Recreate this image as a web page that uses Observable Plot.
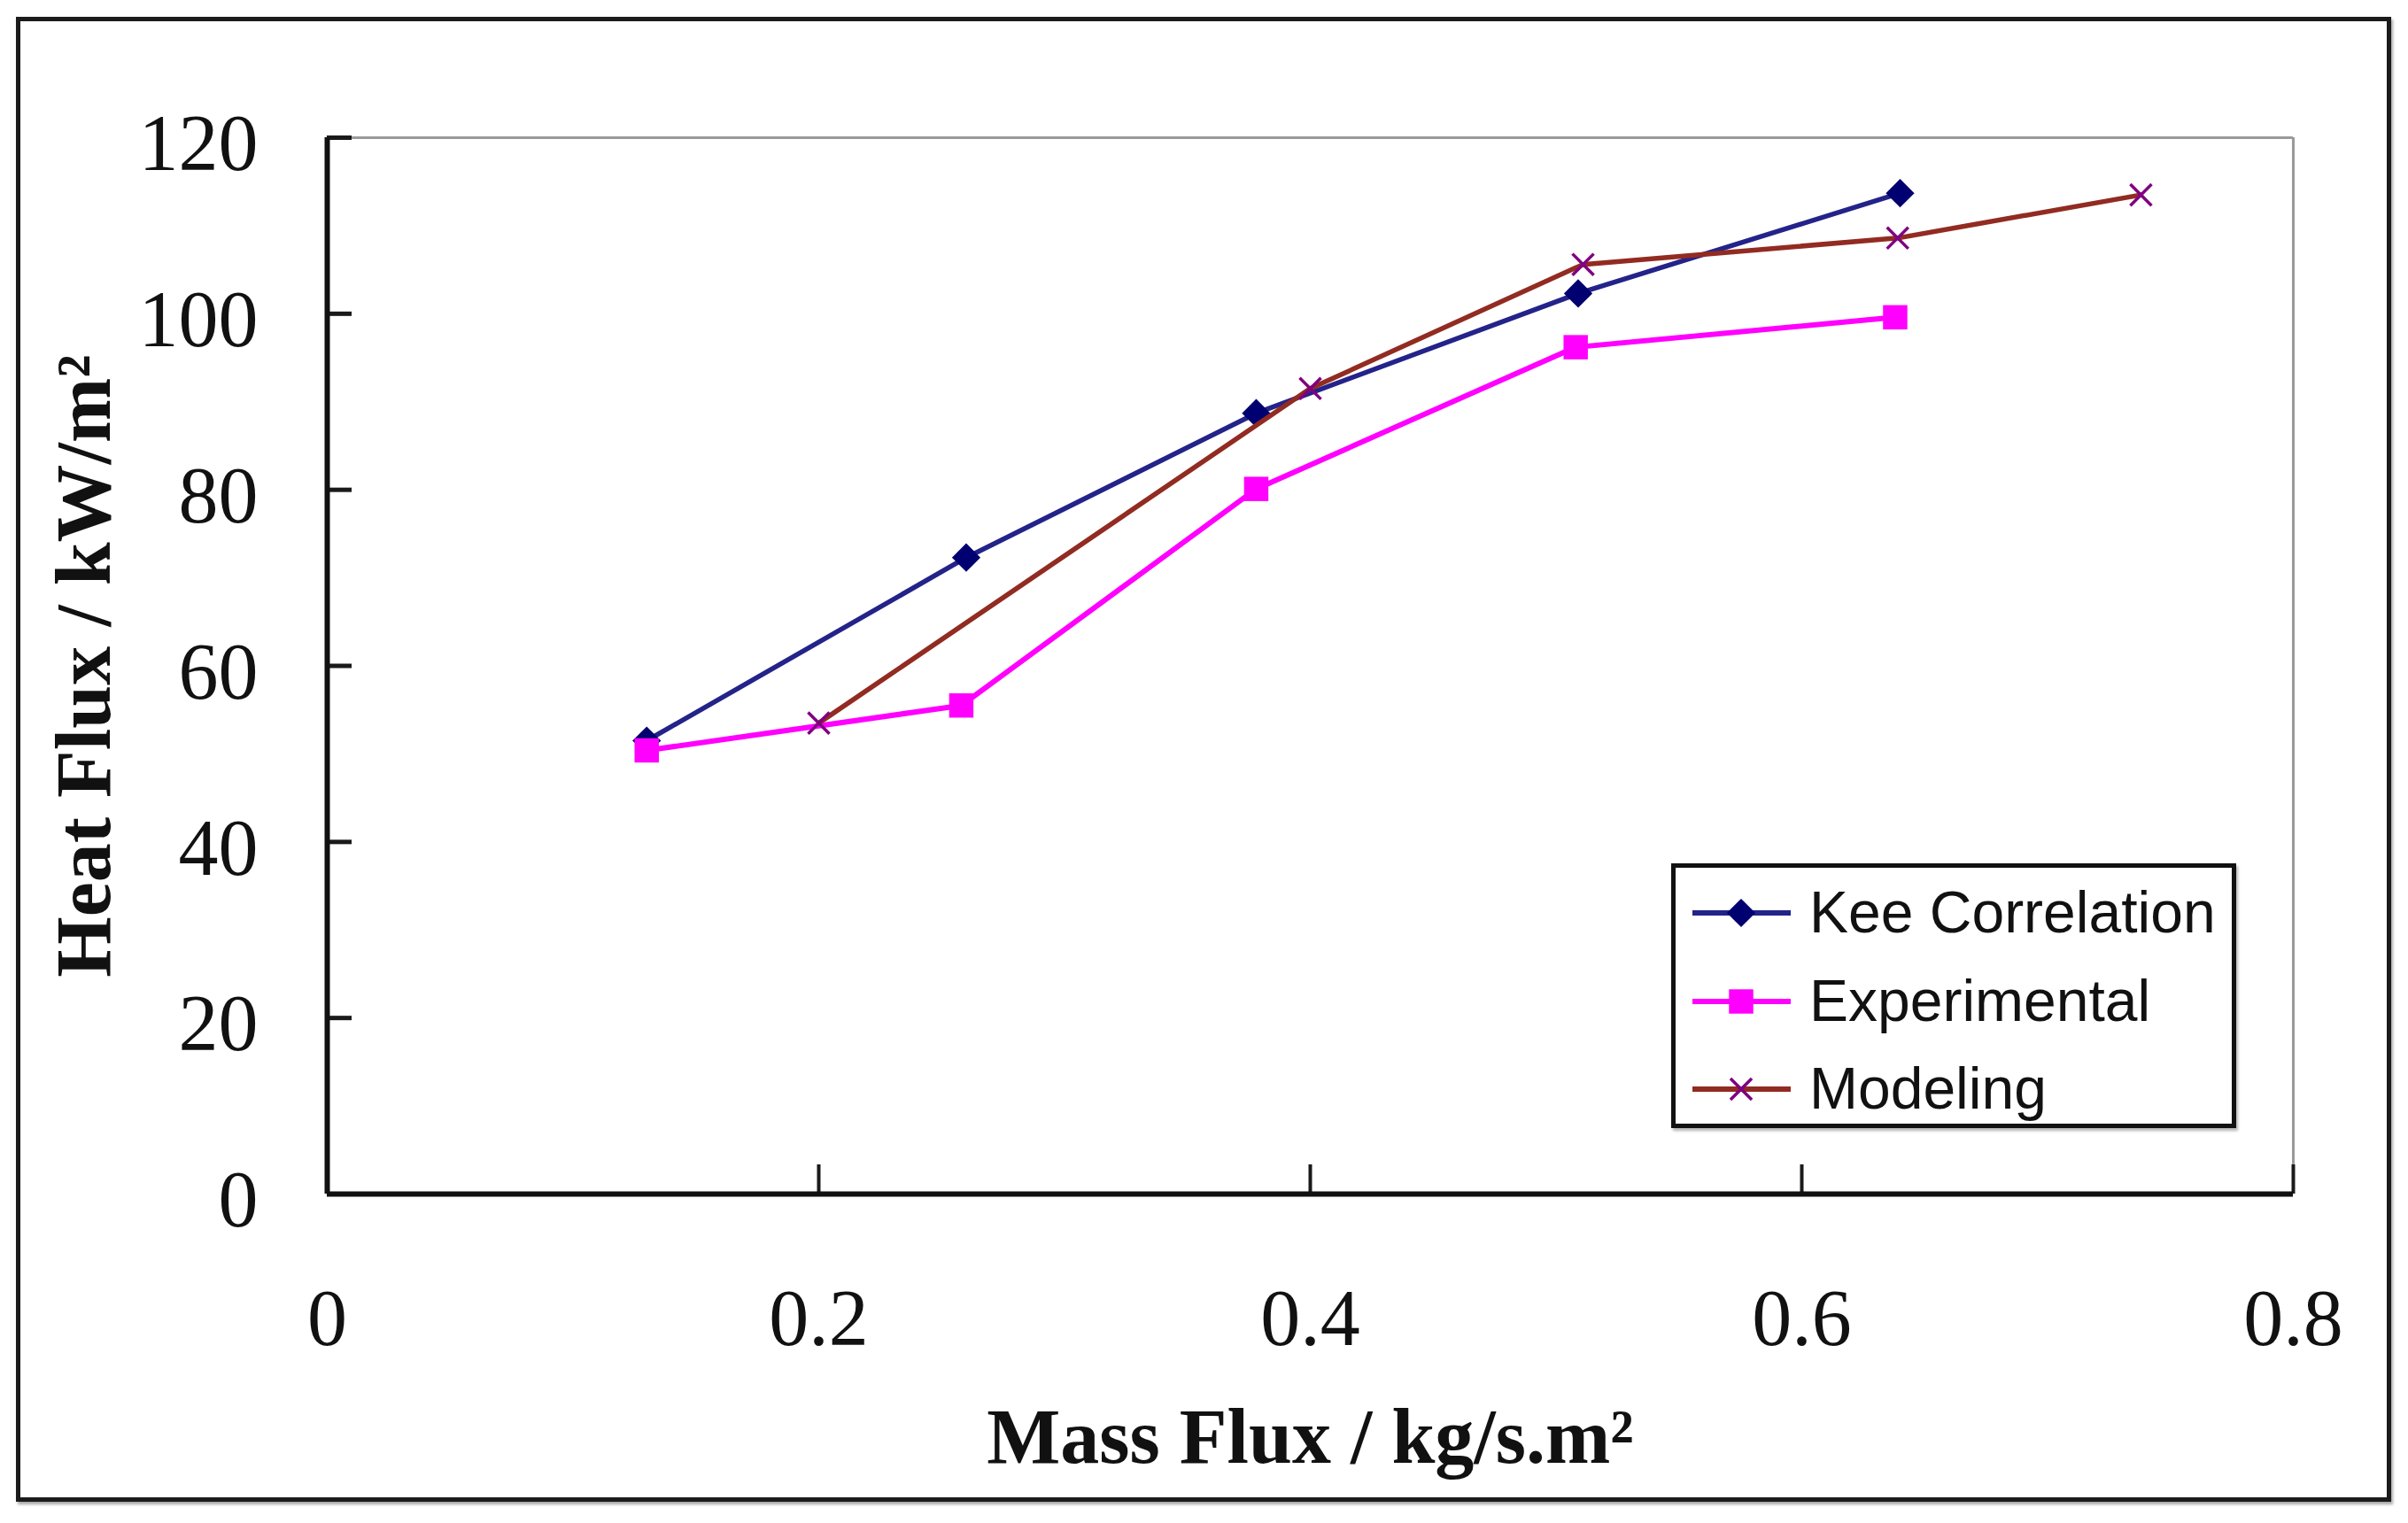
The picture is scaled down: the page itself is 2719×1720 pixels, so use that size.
<!DOCTYPE html>
<html><head><meta charset="utf-8">
<script src="https://cdn.jsdelivr.net/npm/d3@7"></script>
<script src="https://cdn.jsdelivr.net/npm/@observablehq/plot@0.6"></script>
<style>
html,body{margin:0;padding:0;background:#fff;}
#wrap{position:relative;width:2719px;height:1720px;overflow:hidden;background:#fff;}
#frame{position:absolute;left:18px;top:19px;width:2672px;height:1667px;border:5px solid #1b1b1b;box-shadow:2px 3px 3px rgba(0,0,0,0.35);pointer-events:none;}
#legend{position:absolute;left:1887px;top:975px;width:628px;height:289px;border:5px solid #111;background:#fff;overflow:hidden;box-shadow:2px 3px 3px rgba(0,0,0,0.3);}
#legend svg{display:block;}
</style></head><body><div id="wrap"><div id="plot"></div><div id="frame"></div><div id="legend"></div></div>
<script>
// ---- data ----
const seriesNames = ["Kee Correlation", "Experimental", "Modeling"];
const keeX = [0.13, 0.26, 0.378, 0.509, 0.64];
const keeY = [51.5, 72.3, 88.7, 102.3, 113.7];
const expX = [0.13, 0.258, 0.378, 0.508, 0.638];
const expY = [50.4, 55.5, 80.1, 96.2, 99.6];
const modX = [0.2, 0.4, 0.511, 0.639, 0.738];
const modY = [53.5, 91.5, 105.6, 108.6, 113.5];
const xTicks = [0, 0.2, 0.4, 0.6, 0.8];
const yTicks = [0, 20, 40, 60, 80, 100, 120];
const xLabel = "Mass Flux / kg/s.m²";
const yLabel = "Heat Flux / kW/m²";

// ---- styles ----
const C = {
  keeLine: "#23238a", keeMark: "#000070",
  expLine: "#ff00ff", expMark: "#ff00ff",
  modLine: "#922b21", modMark: "#800080"
};
const R = {diamond: 14.5, square: 15.5, times: 11};

const kee = keeX.map((x, i) => ({x, y: keeY[i]}));
const exp = expX.map((x, i) => ({x, y: expY[i]}));
const mod = modX.map((x, i) => ({x, y: modY[i]}));

const chart = Plot.plot({
  width: 2719, height: 1720,
  marginLeft: 369, marginRight: 130, marginTop: 155, marginBottom: 372,
  x: {domain: [0, 0.8]},
  y: {domain: [0, 120]},
  style: {background: "transparent", fontFamily: "'Liberation Serif', 'Times New Roman', serif", color: "#111"},
  marks: [
    Plot.ruleY([120], {stroke: "#9a9a9a", strokeWidth: 3}),
    Plot.ruleX([0.8], {stroke: "#9a9a9a", strokeWidth: 3}),
    Plot.axisY({ticks: yTicks, tickSize: -28, tickFormat: () => "", stroke: "#1a1a1a", strokeWidth: 5, label: null}),
    Plot.axisX({ticks: xTicks, tickSize: -33, tickFormat: () => "", stroke: "#1a1a1a", strokeWidth: 4, label: null}),
    Plot.axisY({ticks: yTicks, tickSize: 0, tickPadding: 78, tickFormat: d => String(d), fontSize: 90, dy: 8, fill: "#111", label: null}),
    Plot.axisX({ticks: xTicks, tickSize: 0, tickPadding: 107, tickFormat: d => String(d), fontSize: 90, fill: "#111", label: null}),
    Plot.ruleX([0], {stroke: "#111", strokeWidth: 6}),
    Plot.ruleY([0], {stroke: "#111", strokeWidth: 6}),
    Plot.line(kee, {x: "x", y: "y", stroke: C.keeLine, strokeWidth: 5.5}),
    Plot.dot(kee, {x: "x", y: "y", symbol: "diamond2", fill: C.keeMark, stroke: "none", r: R.diamond}),
    Plot.line(exp, {x: "x", y: "y", stroke: C.expLine, strokeWidth: 6}),
    Plot.dot(exp, {x: "x", y: "y", symbol: "square", fill: C.expMark, stroke: "none", r: R.square}),
    Plot.line(mod, {x: "x", y: "y", stroke: C.modLine, strokeWidth: 5.5}),
    Plot.dot(mod, {x: "x", y: "y", symbol: "times", stroke: C.modMark, strokeWidth: 3.5, r: R.times}),
    Plot.text([yLabel], {text: d => d, frameAnchor: "left", textAnchor: "middle", dx: -274, rotate: -90, fontSize: 88, fontWeight: "bold", fill: "#111"}),
    Plot.text([xLabel], {text: d => d, frameAnchor: "bottom", textAnchor: "middle", dy: 303, fontSize: 88, fontWeight: "bold", fill: "#111"})
  ]
});
document.getElementById("plot").appendChild(chart);

// ---- legend ----
const legendItems = [
  {name: seriesNames[0], line: C.keeLine, mark: C.keeMark, sym: d3.symbolDiamond2, r: R.diamond, filled: true},
  {name: seriesNames[1], line: C.expLine, mark: C.expMark, sym: d3.symbolSquare, r: R.square, filled: true},
  {name: seriesNames[2], line: C.modLine, mark: C.modMark, sym: d3.symbolTimes, r: R.times, filled: false}
];
const rowY = [51, 151, 250];
const svg = d3.select("#legend").append("svg").attr("width", 628).attr("height", 289);
legendItems.forEach((d, i) => {
  const g = svg.append("g").attr("transform", `translate(0,${rowY[i]})`);
  g.append("line").attr("x1", 19).attr("x2", 130).attr("y1", 0).attr("y2", 0)
    .attr("stroke", d.line).attr("stroke-width", 6);
  g.append("path").attr("transform", "translate(74,0)")
    .attr("d", d3.symbol(d.sym, Math.PI * d.r * d.r)())
    .attr("fill", d.filled ? d.mark : "none")
    .attr("stroke", d.filled ? "none" : d.mark)
    .attr("stroke-width", 3.5);
  g.append("text").attr("x", 151).attr("y", 22)
    .attr("font-family", "'Liberation Sans', Arial, sans-serif")
    .attr("font-size", 66).attr("fill", "#111").text(d.name);
});
</script>
</body></html>
